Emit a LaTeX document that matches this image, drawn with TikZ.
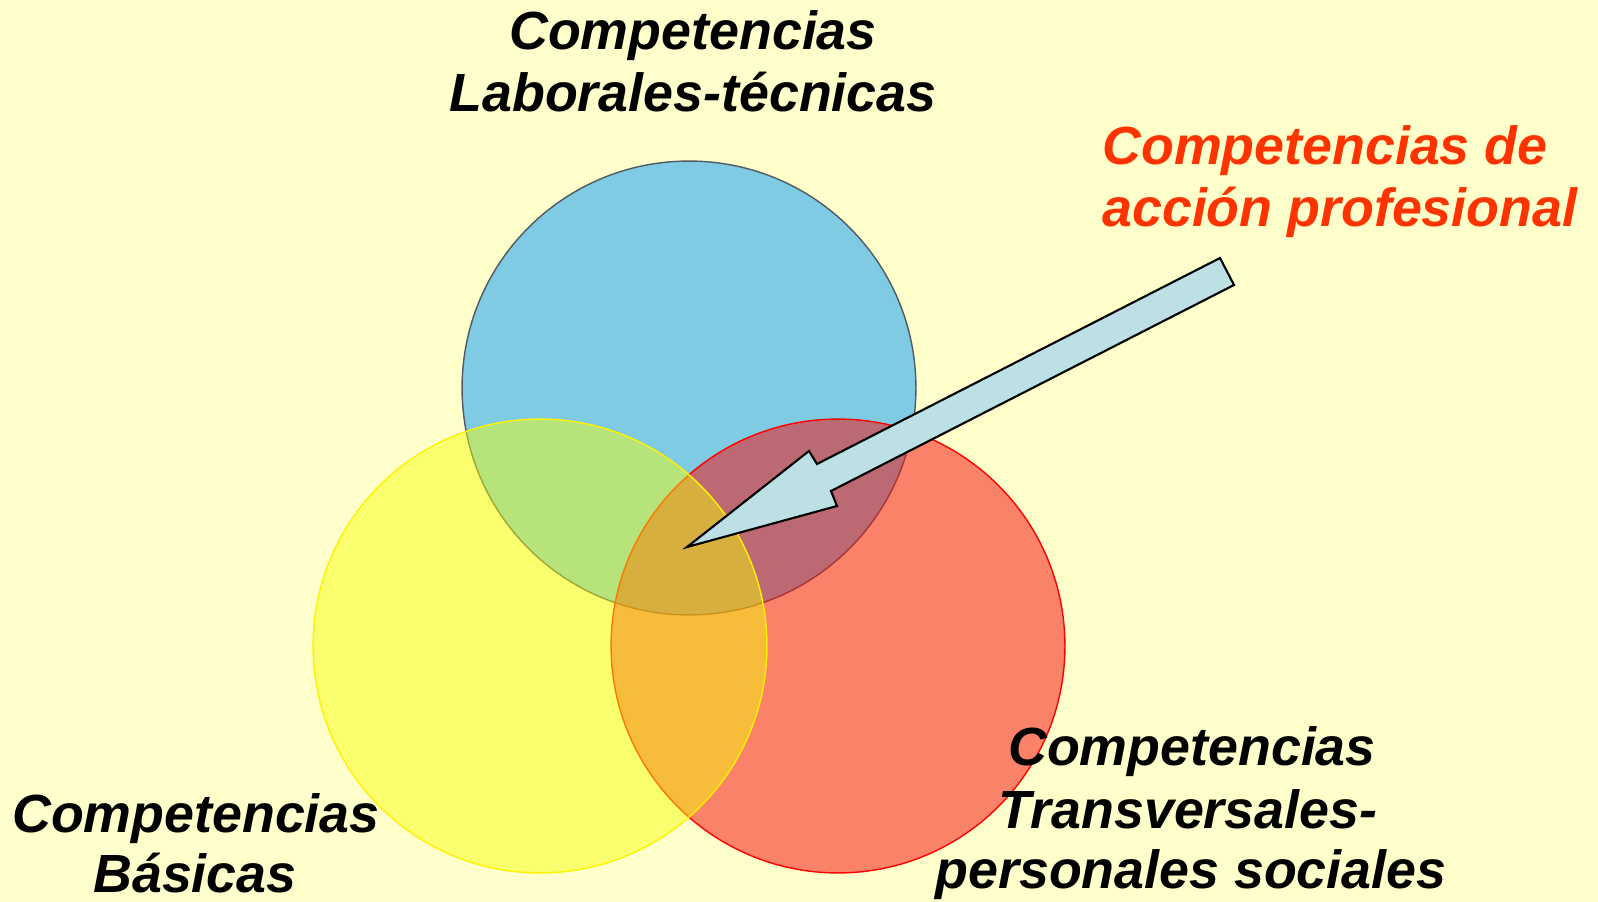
\documentclass[tikz,border=0pt]{standalone}
\usepackage{fontspec}
\setmainfont{Liberation Sans}
\definecolor{bgc}{RGB}{255,255,204}
\definecolor{bluefill}{RGB}{127,203,227}
\definecolor{blueline}{RGB}{80,90,96}
\definecolor{redfill}{RGB}{245,19,17}
\definecolor{yellowfill}{RGB}{245,255,4}
\definecolor{arrowfill}{RGB}{188,224,228}
\definecolor{orangetext}{RGB}{255,51,0}
\begin{document}
\begin{tikzpicture}[x=0.02cm,y=-0.02cm,
  lbl/.style={font=\fontsize{30.6}{35.7}\selectfont\bfseries\itshape, inner sep=0pt, anchor=base},
  lblw/.style={lbl, anchor=base west, text=orangetext},
  ring/.style={line width=0.8pt}]
\fill[bgc] (0,0) rectangle (1598,902);
\useasboundingbox (0,0) rectangle (1598,902);

% circles
\coordinate (cb) at (689,388);
\coordinate (cy) at (540,646);
\coordinate (cr) at (838,646);
\fill[bluefill] (cb) circle[radius=4.54cm];
\draw[ring, blueline] (cb) circle[radius=4.54cm];
\fill[redfill, fill opacity=0.53] (cr) circle[radius=4.54cm];
\draw[ring, red] (cr) circle[radius=4.54cm];
\fill[yellowfill, fill opacity=0.47] (cy) circle[radius=4.54cm];
\draw[ring, yellow] (cy) circle[radius=4.54cm];

% block arrow
\coordinate (aA) at (1220,258);
\coordinate (aG) at (817,464);
\coordinate (aF) at (809,451);
\coordinate (aE) at (687,547);
\coordinate (aD) at (837,506);
\coordinate (aC) at (831,491);
\coordinate (aB) at (1234,285);
\draw[fill=arrowfill, line width=1.2pt, line join=miter]
  (aA) -- (aG) -- (aF) -- (aE) -- (aD) -- (aC) -- (aB) -- cycle;

% labels
\node[lbl] (lt1) at (693,50) {Competencias};
\node[lbl] (lt2) at (693,112) {Laborales-técnicas};
\node[lblw] (ap1) at (1102,165) {Competencias de};
\node[lblw] (ap2) at (1102,227) {acción profesional};
\node[lbl] (cb1) at (196,832) {Competencias};
\node[lbl] (cb2) at (195,892) {Básicas};
\node[lbl] (ct1) at (1192,765) {Competencias};
\node[lbl] (ct2) at (1188,828) {Transversales-};
\node[lbl] (ct3) at (1191,888) {personales sociales};
\end{tikzpicture}
\end{document}
